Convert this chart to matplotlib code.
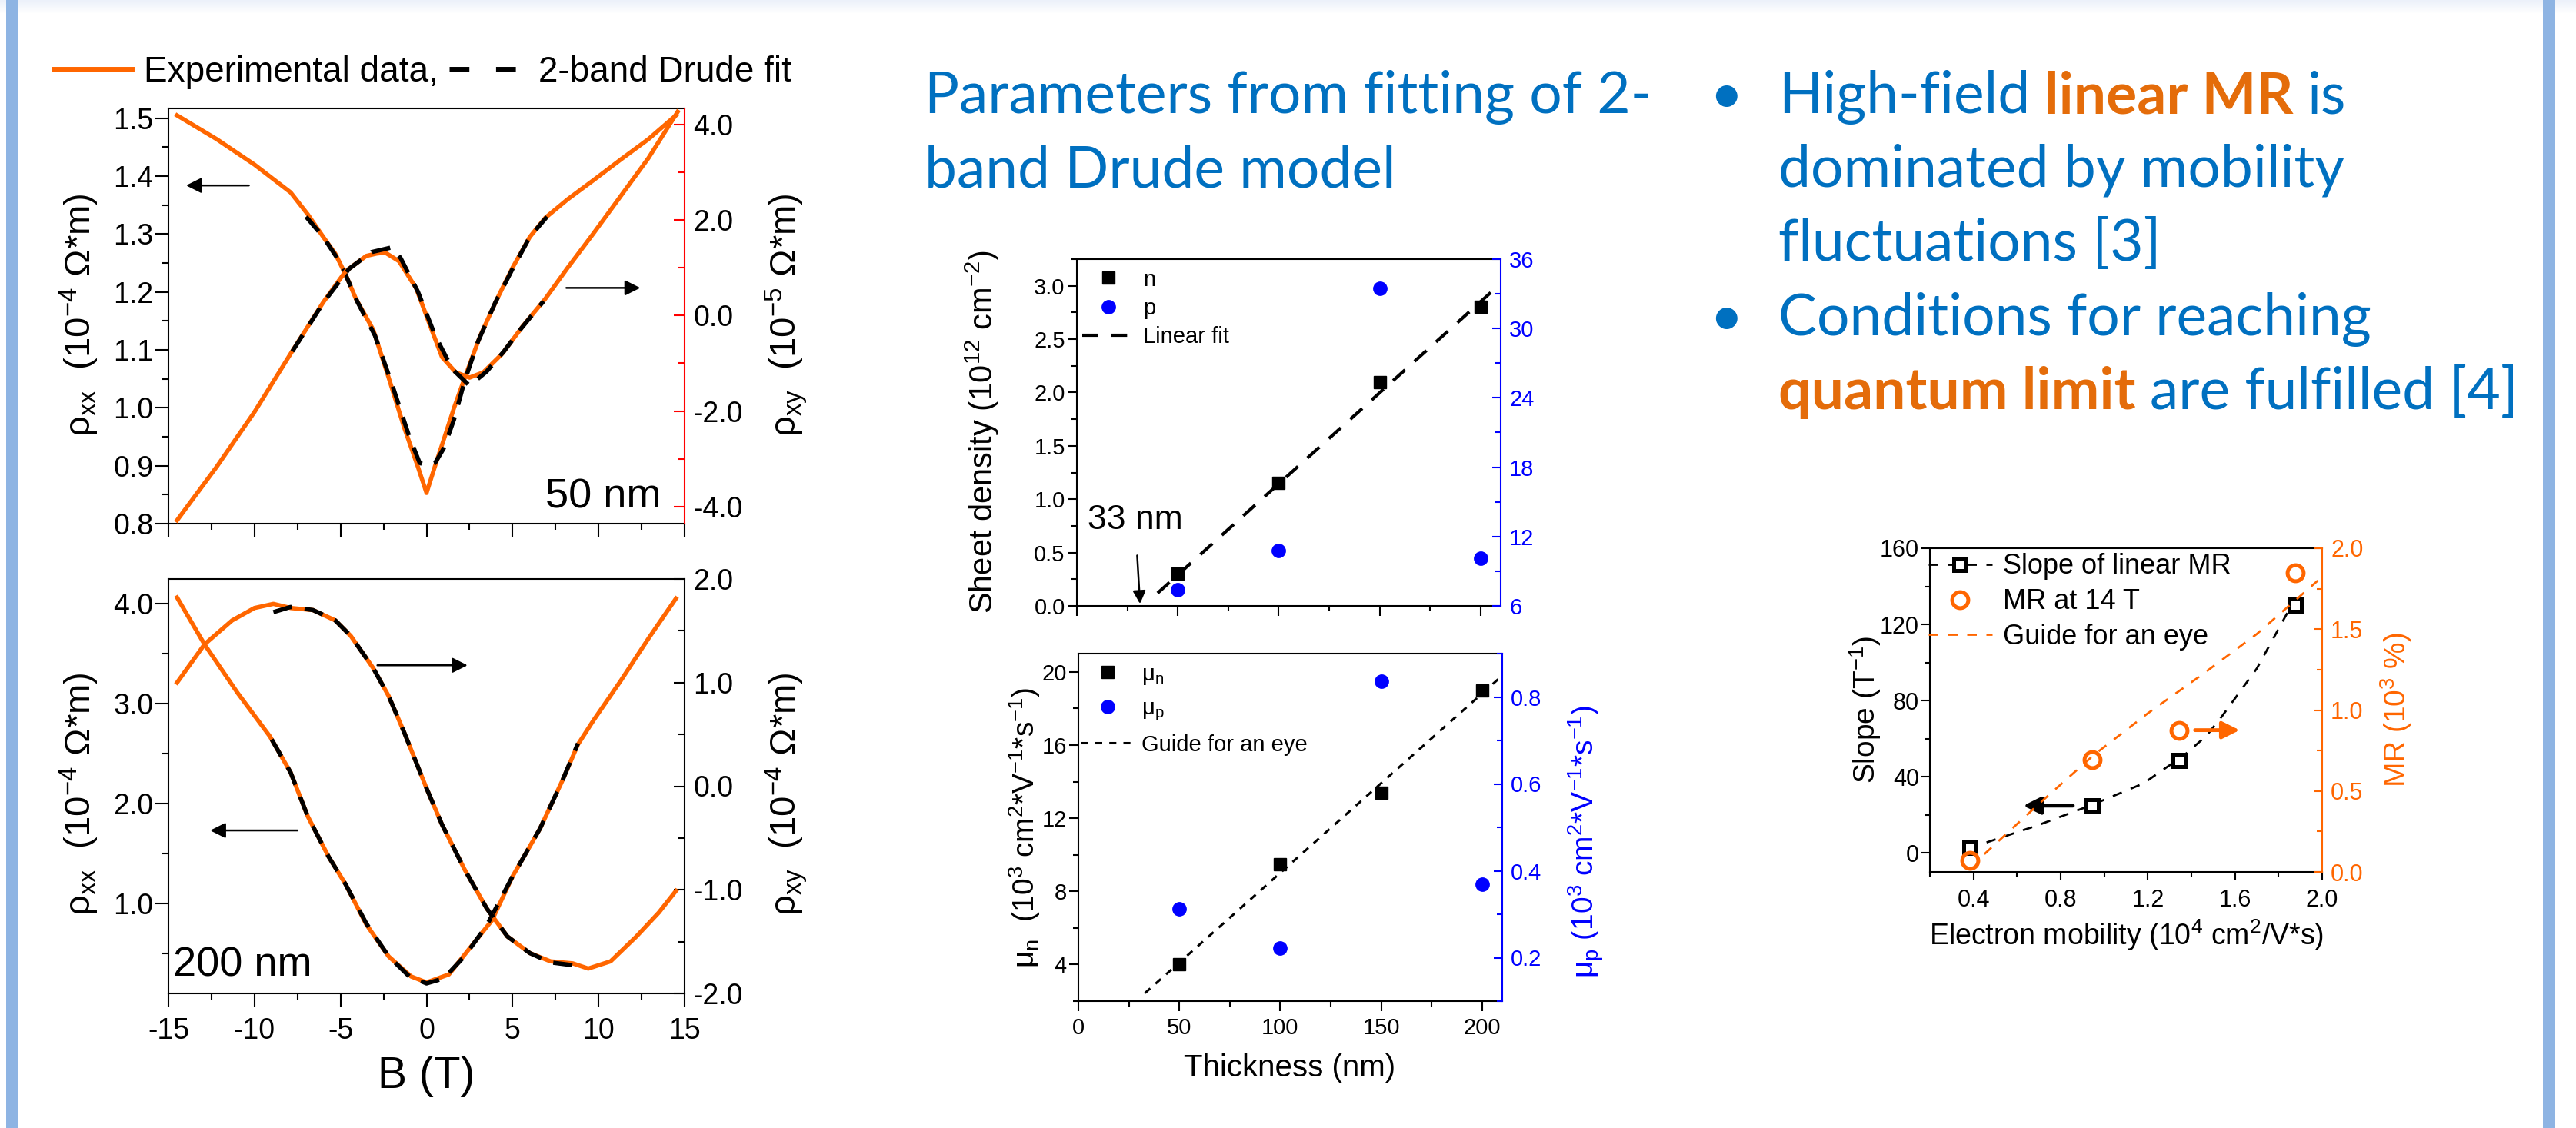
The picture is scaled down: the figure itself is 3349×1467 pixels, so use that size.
""" Poster panel: magnetotransport of thin films, 2-band Drude fit parameters. """

import numpy as np
import matplotlib
matplotlib.use('Agg')
import matplotlib.pyplot as plt
from matplotlib.lines import Line2D
from matplotlib.patches import Rectangle
from matplotlib.ticker import MultipleLocator, FormatStrFormatter

# ---------------------------------------------------------------- data
# 50 nm film, rho_xx (1e-4 Ohm*m) and rho_xy (1e-5 Ohm*m) vs B (T)
b50_xx = [-14.5, -12.2, -10, -7.9, -6.9, -6, -5.3, -4.7, -4.1, -3.1, -2.2, -1.3, -0.5, 0,
          0.5, 1.0, 1.6, 2.2, 3.1, 4.1, 5, 6, 6.9, 8.2, 9.7, 11.3, 12.9, 14.5]
rxx50 = [1.505, 1.464, 1.42, 1.372, 1.334, 1.295, 1.266, 1.23, 1.188, 1.135, 1.052, 0.966, 0.898, 0.853,
         0.90, 0.945, 1.0, 1.05, 1.123, 1.188, 1.242, 1.295, 1.328, 1.36, 1.393, 1.429, 1.464, 1.505]
b50_xy = [-14.5, -12.2, -10, -7.9, -6, -4.7, -3.5, -2.9, -2.4, -1.6, -0.6, 0.3, 0.9, 1.7, 2.5,
          3.3, 4.4, 5.6, 6.9, 8.2, 9.7, 11.3, 12.9, 14.6]
rxy50 = [-4.29, -3.17, -2.02, -0.80, 0.28, 0.93, 1.25, 1.30, 1.32, 1.14, 0.57, -0.30, -0.87, -1.19, -1.30,
         -1.19, -0.80, -0.22, 0.35, 1.0, 1.72, 2.51, 3.30, 4.27]
fit_b50_xx = [-7, -6, -5, -4, -3, -2, -1, -0.4, 0, 0.5, 1, 1.6, 2.2, 3, 4, 5, 6, 7]
fit_xx50 = [1.33, 1.295, 1.25, 1.182, 1.125, 1.04, 0.95, 0.905, 0.9, 0.905, 0.93, 0.98, 1.045,
            1.115, 1.182, 1.24, 1.295, 1.33]
fit_b50_xy = [-7.8, -6, -4.5, -3.2, -2.0, -1.5, -0.5, 0.5, 1.5, 2.5, 3.5, 4.5, 5.5, 6.8]
fit_xy50 = [-0.75, 0.27, 0.98, 1.33, 1.43, 1.2, 0.5, -0.42, -1.12, -1.47, -1.17, -0.75, -0.27, 0.3]

# 200 nm film, rho_xx and rho_xy (both 1e-4 Ohm*m)
b200_xx = [-14.5, -12.9, -11, -9.1, -7.9, -6.9, -5.7, -4.7, -3.5, -2.2, -0.9, 0, 1.3, 2.5, 3.8,
           5, 6.6, 7.9, 8.8, 9.7, 11.3, 12.9, 14.5]
rxx200 = [4.06, 3.59, 3.11, 2.67, 2.31, 1.87, 1.47, 1.19, 0.79, 0.47, 0.27, 0.21, 0.29, 0.55, 0.83,
          1.27, 1.75, 2.23, 2.59, 2.83, 3.23, 3.65, 4.05]
b200_xy = [-14.5, -12.9, -11.3, -10, -8.9, -7.9, -6.6, -5.3, -4.4, -3.1, -2.2, -1.3, 0, 0.9, 2.2,
           3.5, 4.7, 6, 7.2, 8.5, 9.4, 10.7, 12.2, 13.5, 14.5]
rxy200 = [1.0, 1.37, 1.6, 1.72, 1.76, 1.72, 1.70, 1.6, 1.45, 1.14, 0.87, 0.52, -0.02, -0.37, -0.80,
          -1.18, -1.45, -1.61, -1.69, -1.71, -1.76, -1.69, -1.45, -1.22, -1.01]
fit_b200_xx = [-9, -7.9, -6.9, -5.7, -4.7, -3.5, -2.2, -1, 0, 1, 2.2, 3.5, 5, 6.6, 7.9, 8.8]
fit_xx200 = [2.64, 2.31, 1.87, 1.47, 1.19, 0.8, 0.47, 0.27, 0.2, 0.25, 0.47, 0.78, 1.27, 1.75, 2.23, 2.6]
fit_b200_xy = [-8.9, -7.9, -6.6, -5.3, -4.4, -3.1, -2.2, -1.3, 0, 0.9, 2.2, 3.5, 4.7, 6, 7.2, 8.6]
fit_xy200 = [1.68, 1.73, 1.70, 1.6, 1.45, 1.14, 0.87, 0.52, -0.02, -0.37, -0.80, -1.18, -1.45,
             -1.61, -1.70, -1.73]

# fit parameters vs film thickness
thickness = [50, 100, 150, 200]
n_density = [0.30, 1.15, 2.10, 2.80]      # 1e12 cm^-2
p_density = [7.4, 10.8, 33.5, 10.1]       # 1e12 cm^-2 (right axis)
fit_thk = [40, 207]
fit_n = [0.12, 2.97]
mu_n = [4.0, 9.5, 13.4, 19.0]             # 1e3 cm^2/Vs
mu_p = [0.313, 0.222, 0.836, 0.369]
guide_thk = [33, 208]
guide_mu = [2.44, 19.6]

# linear MR vs electron mobility
mobility = [0.383, 0.943, 1.343, 1.878]
slope = [3.0, 24.8, 48.6, 130.3]
mr14 = [0.073, 0.694, 0.876, 1.848]
slope_guide_x = [0.46, 0.70, 0.95, 1.18, 1.37, 1.47, 1.54, 1.70, 1.84]
slope_guide_y = [5.5, 14.7, 25.5, 36.5, 51.6, 61.6, 71.7, 96.8, 126]
mr_guide_x = [0.45, 0.7, 0.95, 1.2, 1.45, 1.7, 1.98]
mr_guide_y = [0.11, 0.42, 0.72, 0.98, 1.22, 1.47, 1.80]

# ---------------------------------------------------------------- setup
W, H, DPI = 3349, 1467, 100
ORANGE = '#FF6600'
TXT_BLUE = '#0070C0'
TXT_ORANGE = '#E46C0A'
BLUE = '#0000FF'

plt.rcParams['font.family'] = ['Liberation Sans', 'DejaVu Sans']
plt.rcParams['mathtext.fontset'] = 'custom'
plt.rcParams['mathtext.rm'] = 'Liberation Sans'
plt.rcParams['mathtext.it'] = 'Liberation Sans:italic'
plt.rcParams['mathtext.bf'] = 'Liberation Sans:bold'
plt.rcParams['axes.unicode_minus'] = False

fig = plt.figure(figsize=(W / DPI, H / DPI), dpi=DPI)


def box(l, t, r, b):
    return [l / W, 1 - b / H, (r - l) / W, (b - t) / H]


def fx(x):
    return x / W


def fy(y):
    return 1 - y / H


def frame(ax, size, major, minor, xpad=8):
    ax.tick_params(which='both', direction='out', width=1.5, labelsize=size)
    ax.tick_params(which='major', length=major)
    ax.tick_params(which='minor', length=minor)
    ax.tick_params(axis='x', pad=xpad)
    ax.tick_params(axis='y', pad=2)
    for sp in ax.spines.values():
        sp.set_linewidth(1.5)
    ax.spines['right'].set_visible(False)


def frame_right(axr, size, major, minor, color, labelcolor):
    axr.tick_params(axis='y', which='both', direction='in', width=1.5, labelsize=size,
                    colors=color, labelcolor=labelcolor, pad=8)
    axr.tick_params(axis='y', which='major', length=major)
    axr.tick_params(axis='y', which='minor', length=minor)
    for name in ['top', 'left', 'bottom']:
        axr.spines[name].set_visible(False)
    axr.spines['right'].set_color(color)
    axr.spines['right'].set_linewidth(1.5)


# background: top gradient and blue side bars
bg = fig.add_axes([0, 1 - 18 / H, 1, 18 / H], zorder=-10)
grad = np.linspace(0, 1, 18)[:, None, None]
top_col = np.array([236, 241, 250]) / 255
bg.imshow(top_col * (1 - grad) + grad, aspect='auto')
bg.axis('off')
fig.add_artist(Rectangle((fx(8), 0), 15 / W, 1, transform=fig.transFigure,
                         facecolor='#8EB4E3', edgecolor='none', zorder=-5))
fig.add_artist(Rectangle((fx(3306), 0), 16 / W, 1, transform=fig.transFigure,
                         facecolor='#8EB4E3', edgecolor='none', zorder=-5))

FIT_LS = (0, (4.5, 3))
arrow_thin = dict(arrowstyle='-|>', color='k', lw=1.8, mutation_scale=30)

# ---------------------------------------------------------------- 50 nm
ax1 = fig.add_axes(box(219, 141, 890, 681))
ax1.plot(b50_xx, rxx50, color=ORANGE, lw=4, zorder=2)
ax1.plot(fit_b50_xx, fit_xx50, color='k', lw=4, ls=FIT_LS, zorder=3)
ax1.set_xlim(-15, 15)
ax1.set_ylim(0.8, 1.517)
ax1.xaxis.set_major_locator(MultipleLocator(5))
ax1.xaxis.set_minor_locator(MultipleLocator(2.5))
ax1.yaxis.set_major_locator(MultipleLocator(0.1))
ax1.yaxis.set_minor_locator(MultipleLocator(0.05))
ax1.yaxis.set_major_formatter(FormatStrFormatter('%.1f'))
frame(ax1, 27, 12, 6)
ax1.tick_params(axis='x', labelbottom=False)
ax1.annotate('', xy=(-14.1, 1.384), xytext=(-10.2, 1.384), arrowprops=arrow_thin)
ax1.text(13.65, 0.827, '50 nm', fontsize=39, ha='right', va='baseline')

ax1r = ax1.twinx()
ax1r.plot(b50_xy, rxy50, color=ORANGE, lw=4, zorder=2)
ax1r.plot(fit_b50_xy, fit_xy50, color='k', lw=4, ls=FIT_LS, zorder=3)
ax1r.set_ylim(-4.36, 4.34)
ax1r.yaxis.set_major_locator(MultipleLocator(2))
ax1r.yaxis.set_minor_locator(MultipleLocator(1))
ax1r.yaxis.set_major_formatter(FormatStrFormatter('%.1f'))
frame_right(ax1r, 27, 10, 6, 'red', 'k')
ax1r.annotate('', xy=(12.55, 0.58), xytext=(8.0, 0.58), arrowprops=arrow_thin)

fig.legend(handles=[Line2D([], [], color=ORANGE, lw=5),
                    Line2D([], [], color='k', lw=5, ls=(0, (3.7, 5)))],
           labels=['Experimental data,', '2-band Drude fit'], ncol=2,
           loc='center left', bbox_to_anchor=(fx(70), fy(94)), frameon=False,
           fontsize=33, handlelength=2.2, handletextpad=0.35, columnspacing=0.3,
           borderpad=0, borderaxespad=0)

fig.text(fx(103), fy(410), 'ρ$_{\\mathrm{xx}}$  (10$^{-4}$ Ω*m)', fontsize=34,
         rotation=90, ha='center', va='center')
fig.text(fx(1022), fy(410), 'ρ$_{\\mathrm{xy}}$  (10$^{-5}$ Ω*m)', fontsize=34,
         rotation=90, ha='center', va='center')

# ---------------------------------------------------------------- 200 nm
ax2 = fig.add_axes(box(219, 753, 890, 1292))
ax2.plot(b200_xx, rxx200, color=ORANGE, lw=4, zorder=2)
ax2.plot(fit_b200_xx, fit_xx200, color='k', lw=4, ls=FIT_LS, zorder=3)
ax2.set_xlim(-15, 15)
ax2.set_ylim(0.1, 4.245)
ax2.xaxis.set_major_locator(MultipleLocator(5))
ax2.xaxis.set_minor_locator(MultipleLocator(2.5))
ax2.yaxis.set_major_locator(MultipleLocator(1))
ax2.yaxis.set_minor_locator(MultipleLocator(0.5))
ax2.yaxis.set_major_formatter(FormatStrFormatter('%.1f'))
frame(ax2, 27, 12, 6, xpad=10)
ax2.annotate('', xy=(-12.7, 1.73), xytext=(-7.37, 1.73), arrowprops=arrow_thin)
ax2.text(-14.75, 0.275, '200 nm', fontsize=39, ha='left', va='baseline')

ax2r = ax2.twinx()
ax2r.plot(b200_xy, rxy200, color=ORANGE, lw=4, zorder=2)
ax2r.plot(fit_b200_xy, fit_xy200, color='k', lw=4, ls=FIT_LS, zorder=3)
ax2r.set_ylim(-2, 2)
ax2r.yaxis.set_major_locator(MultipleLocator(1))
ax2r.yaxis.set_minor_locator(MultipleLocator(0.5))
ax2r.yaxis.set_major_formatter(FormatStrFormatter('%.1f'))
frame_right(ax2r, 27, 10, 6, 'k', 'k')
ax2r.annotate('', xy=(2.51, 1.167), xytext=(-2.98, 1.167), arrowprops=arrow_thin)

fig.text(fx(103), fy(1033), 'ρ$_{\\mathrm{xx}}$  (10$^{-4}$ Ω*m)', fontsize=34,
         rotation=90, ha='center', va='center')
fig.text(fx(1022), fy(1033), 'ρ$_{\\mathrm{xy}}$  (10$^{-4}$ Ω*m)', fontsize=34,
         rotation=90, ha='center', va='center')
fig.text(fx(554), fy(1400), 'B (T)', fontsize=41, ha='center', va='center')

# ---------------------------------------------------------------- densities
ax3 = fig.add_axes(box(1400, 337, 1951, 788))
h_n, = ax3.plot(thickness, n_density, 's', color='k', ms=11, zorder=3)
h_fit, = ax3.plot(fit_thk, fit_n, color='k', lw=3, ls=(0, (5, 4)), zorder=2)
ax3.set_xlim(0, 210)
ax3.set_ylim(0, 3.25)
ax3.xaxis.set_major_locator(MultipleLocator(50))
ax3.xaxis.set_minor_locator(MultipleLocator(25))
ax3.yaxis.set_major_locator(MultipleLocator(0.5))
ax3.yaxis.set_minor_locator(MultipleLocator(0.25))
ax3.yaxis.set_major_formatter(FormatStrFormatter('%.1f'))
frame(ax3, 21, 9, 5)
ax3.tick_params(axis='x', labelbottom=False)
ax3.annotate('33 nm', xy=(31.3, 0.02), xytext=(5.3, 0.80), fontsize=32, va='center',
             arrowprops=dict(arrowstyle='-|>', color='k', lw=1.8, mutation_scale=25,
                             shrinkA=16, shrinkB=0))

ax3r = ax3.twinx()
h_p, = ax3r.plot(thickness, p_density, 'o', color=BLUE, ms=12.5, zorder=3)
ax3r.set_ylim(6, 36)
ax3r.yaxis.set_major_locator(MultipleLocator(6))
ax3r.yaxis.set_minor_locator(MultipleLocator(3))
frame_right(ax3r, 21, 8, 5, BLUE, BLUE)
ax3r.legend([h_n, h_p, h_fit], ['n', 'p', 'Linear fit'], loc='upper left',
            bbox_to_anchor=(0.0127, 0.972), frameon=False, fontsize=21, numpoints=1,
            handlelength=2.35, handletextpad=0.35, labelspacing=0.32,
            borderpad=0, borderaxespad=0)
fig.text(fx(1277), fy(562), 'Sheet density (10$^{12}$ cm$^{-2}$)', fontsize=30,
         rotation=90, ha='center', va='center')

# ---------------------------------------------------------------- mobilities
ax4 = fig.add_axes(box(1402, 850, 1953, 1302))
h_mn, = ax4.plot(thickness, mu_n, 's', color='k', ms=11, zorder=3)
h_g, = ax4.plot(guide_thk, guide_mu, color='k', lw=2.2, ls=(0, (3, 3)), zorder=2)
ax4.set_xlim(0, 210)
ax4.set_ylim(2, 21)
ax4.xaxis.set_major_locator(MultipleLocator(50))
ax4.xaxis.set_minor_locator(MultipleLocator(25))
ax4.yaxis.set_major_locator(MultipleLocator(4))
ax4.yaxis.set_minor_locator(MultipleLocator(2))
frame(ax4, 21, 9, 5, xpad=6)

ax4r = ax4.twinx()
h_mp, = ax4r.plot(thickness, mu_p, 'o', color=BLUE, ms=12.5, zorder=3)
ax4r.set_ylim(0.1, 0.9)
ax4r.yaxis.set_major_locator(MultipleLocator(0.2))
ax4r.yaxis.set_minor_locator(MultipleLocator(0.1))
ax4r.yaxis.set_major_formatter(FormatStrFormatter('%.1f'))
frame_right(ax4r, 21, 8, 5, BLUE, BLUE)
ax4r.legend([h_mn, h_mp, h_g], ['μ$_{\\mathrm{n}}$', 'μ$_{\\mathrm{p}}$', 'Guide for an eye'],
            loc='upper left', bbox_to_anchor=(0.005, 0.972), frameon=False, fontsize=21,
            numpoints=1, handlelength=2.4, handletextpad=0.3, labelspacing=0.5,
            borderpad=0, borderaxespad=0)
fig.text(fx(1332), fy(1076), 'μ$_{\\mathrm{n}}$  (10$^{3}$ cm$^{2}$*V$^{-1}$*s$^{-1}$)',
         fontsize=28, rotation=90, ha='center', va='center')
fig.text(fx(2062), fy(1095), 'μ$_{\\mathrm{p}}$ (10$^{3}$ cm$^{2}$*V$^{-1}$*s$^{-1}$)',
         fontsize=28, rotation=90, ha='center', va='center', color=BLUE)
fig.text(fx(1677), fy(1389), 'Thickness (nm)', fontsize=29, ha='center', va='center')

# ---------------------------------------------------------------- MR vs mobility
ax5 = fig.add_axes(box(2509, 713, 3019, 1134))
ax5.plot(slope_guide_x, slope_guide_y, color='k', lw=2, ls=(0, (4.5, 4.5)), zorder=2)
ax5.plot(mobility, slope, 's', mfc='white', mec='k', mew=3.6, ms=12, zorder=3)
ax5.set_xlim(0.2, 2.0)
ax5.set_ylim(-10, 160)
ax5.xaxis.set_major_locator(MultipleLocator(0.4))
ax5.xaxis.set_minor_locator(MultipleLocator(0.2))
ax5.xaxis.set_major_formatter(FormatStrFormatter('%.1f'))
ax5.yaxis.set_major_locator(MultipleLocator(40))
ax5.yaxis.set_minor_locator(MultipleLocator(20))
frame(ax5, 22, 8, 5, xpad=8)
ax5.annotate('', xy=(0.619, 24.8), xytext=(0.866, 24.8),
             arrowprops=dict(arrowstyle='-|>', color='k', lw=3.5, mutation_scale=34))

ax5r = ax5.twinx()
ax5r.plot(mr_guide_x, mr_guide_y, color=ORANGE, lw=2, ls=(0, (4.5, 4.5)), zorder=2)
ax5r.plot(mobility, mr14, 'o', mfc='none', mec=ORANGE, mew=3.6, ms=15, zorder=3)
ax5r.set_ylim(0, 2)
ax5r.yaxis.set_major_locator(MultipleLocator(0.5))
ax5r.yaxis.set_minor_locator(MultipleLocator(0.25))
ax5r.yaxis.set_major_formatter(FormatStrFormatter('%.1f'))
frame_right(ax5r, 22, 8, 5, ORANGE, ORANGE)
ax5r.annotate('', xy=(1.631, 0.876), xytext=(1.407, 0.876),
              arrowprops=dict(arrowstyle='-|>', color=ORANGE, lw=3.5, mutation_scale=34))
ax5r.legend([Line2D([], [], color='k', lw=2, ls=(0, (4.5, 4.5)), marker='s', mfc='white',
                    mec='k', mew=3.6, ms=12),
             Line2D([], [], ls='none', marker='o', mfc='none', mec=ORANGE, mew=3.6, ms=15),
             Line2D([], [], color=ORANGE, lw=2, ls=(0, (4.5, 4.5)))],
            ['Slope of linear MR', 'MR at 14 T', 'Guide for an eye'],
            loc='upper left', bbox_to_anchor=(-0.004, 0.985), frameon=False, fontsize=26,
            numpoints=1, handlelength=2.3, handletextpad=0.4, labelspacing=0.3,
            borderpad=0, borderaxespad=0)
fig.text(fx(2425), fy(923), 'Slope (T$^{-1}$)', fontsize=28, rotation=90,
         ha='center', va='center')
fig.text(fx(3115), fy(923), 'MR (10$^{3}$ %)', fontsize=28, rotation=90,
         ha='center', va='center', color=ORANGE)
fig.text(fx(2765), fy(1216), 'Electron mobility (10$^{4}$ cm$^{2}$/V*s)', fontsize=27,
         ha='center', va='center')

# ---------------------------------------------------------------- slide text
TXT = 54
TFONT = ['Lato', 'DejaVu Sans']
renderer = fig.canvas.get_renderer()


def text_width(s, weight):
    t = fig.text(0, 0, s, fontsize=TXT, family=TFONT, fontweight=weight)
    w = t.get_window_extent(renderer).width
    t.remove()
    return w


def rich(x, y, parts):
    for s, color, weight in parts:
        t = fig.text(fx(x), fy(y), s, fontsize=TXT, family=TFONT, color=color,
                     fontweight=weight, va='baseline')
        bb = t.get_window_extent(renderer)
        space = text_width('a a', weight) - text_width('aa', weight)
        x = bb.x1 + space


fig.text(fx(1202), fy(147), 'Parameters from fitting of 2-', fontsize=TXT, family=TFONT,
         color=TXT_BLUE, va='baseline')
fig.text(fx(1202), fy(243), 'band Drude model', fontsize=TXT, family=TFONT,
         color=TXT_BLUE, va='baseline')

for yb in [147, 436]:
    fig.text(fx(2222), fy(yb), '•', fontsize=TXT, family=TFONT, color=TXT_BLUE, va='baseline')

rich(2312, 147, [('High-field', TXT_BLUE, 'normal'), ('linear MR', TXT_ORANGE, 'bold'),
                 ('is', TXT_BLUE, 'normal')])
rich(2312, 243, [('dominated by mobility', TXT_BLUE, 'normal')])
rich(2312, 339, [('fluctuations [3]', TXT_BLUE, 'normal')])
rich(2312, 436, [('Conditions for reaching', TXT_BLUE, 'normal')])
rich(2312, 532, [('quantum limit', TXT_ORANGE, 'bold'), ('are fulfilled [4]', TXT_BLUE, 'normal')])

fig.savefig('out.png', dpi=DPI, facecolor='white')
